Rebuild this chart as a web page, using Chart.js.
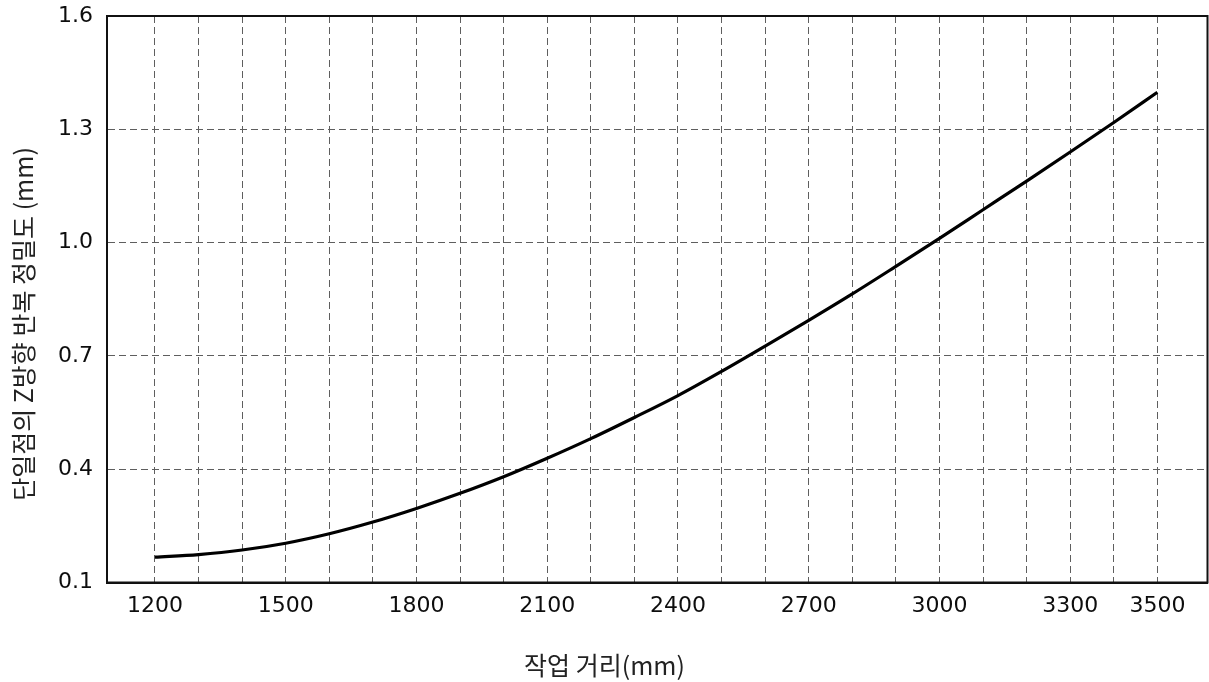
<!DOCTYPE html>
<html>
<head>
<meta charset="utf-8">
<script src="https://cdn.jsdelivr.net/npm/chart.js@4.4.0/dist/chart.umd.min.js"></script>
<style>
    html, body { margin:0; padding:0; background:#fff; }
    #wrap { width:1209px; height:682px; position:relative; }
</style>
</head>
<body>
<div id="wrap"><canvas id="chart"></canvas></div>
<script>
// ── Data ──
const distances = [1200,1300,1400,1500,1600,1700,1800,1900,2000,2100,2200,2300,
                   2400,2500,2600,2700,2800,2900,3000,3100,3200,3300,3400,3500];
const precision = [0.167,0.174,0.186,0.204,0.229,0.260,0.296,0.336,0.380,0.429,0.481,0.537,
                   0.595,0.659,0.726,0.794,0.864,0.937,1.011,1.087,1.163,1.240,1.318,1.398];
const xTickLabels = [1200,1500,1800,2100,2400,2700,3000,3300,3500];
const yTicks = [0.1,0.4,0.7,1.0,1.3,1.6];
const xTitle = '작업 거리(mm)';
const yTitle = '단일점의 Z방향 반복 정밀도 (mm)';

const TICK_FONT = { family:'"DejaVu Sans", sans-serif', size:22, weight:'normal' };
const TITLE_FONT = '25px "Noto Sans CJK KR", "Noto Sans", sans-serif';
const GRID_COLOR = '#5e5e5e';

// ── Frame + axis titles ──
const framePlugin = {
    id:'frame',
    afterDraw(chart) {
        const { ctx, chartArea:a } = chart;
        ctx.save();
        ctx.setLineDash([]);
        ctx.strokeStyle = '#111'; ctx.lineWidth = 2;
        ctx.strokeRect(a.left, a.top, a.right-a.left, a.bottom-a.top);
        ctx.fillStyle = '#222'; ctx.font = TITLE_FONT;
        ctx.textAlign = 'center'; ctx.textBaseline = 'middle';
        ctx.fillText(xTitle, chart.width/2, 665);
        ctx.translate(23, 324); ctx.rotate(-Math.PI/2);
        ctx.fillText(yTitle, 0, 0);
        ctx.restore();
    }
};

new Chart(document.getElementById('chart').getContext('2d'), {
    type:'line',
    plugins:[framePlugin],
    data:{ datasets:[{
        data: distances.map((d,i)=>({x:d, y:precision[i]})),
        borderColor:'#000', borderWidth:3.2, pointRadius:0,
        cubicInterpolationMode:'monotone', fill:false
    }]},
    options:{
        responsive:true, maintainAspectRatio:false, animation:false,
        layout:{ padding:{ top:16, right:1.5, left:0, bottom:0 } },
        plugins:{ legend:{display:false}, tooltip:{enabled:false} },
        scales:{
            x:{
                type:'linear', min:1090, max:3615,
                afterBuildTicks:(s)=>{ s.ticks = distances.map(v=>({value:v})); },
                afterFit:(s)=>{ s.height = 99.5; s.paddingLeft = 0; s.paddingRight = 0; },
                grid:{ display:true, color:GRID_COLOR, lineWidth:1, drawTicks:false },
                border:{ display:true, color:'#111', width:2, dash:[7,4] },
                ticks:{ autoSkip:false, maxRotation:0, padding:11, color:'#0d0d0d', font:TICK_FONT,
                        callback:(v)=> xTickLabels.includes(v) ? String(v) : '' }
            },
            y:{
                type:'linear', min:0.1, max:1.6,
                afterBuildTicks:(s)=>{ s.ticks = yTicks.map(v=>({value:v})); },
                afterFit:(s)=>{ s.width = 107; s.paddingTop = 0; s.paddingBottom = 0; },
                grid:{ display:true, lineWidth:1, drawTicks:false,
                       color:(c)=> (c.tick && (c.tick.value<=0.1 || c.tick.value>=1.6)) ? 'rgba(0,0,0,0)' : GRID_COLOR },
                border:{ display:true, color:'#111', width:2, dash:[7,4] },
                ticks:{ padding:14, color:'#0d0d0d', font:TICK_FONT,
                        callback:(v)=> Number(v).toFixed(1) }
            }
        }
    }
});
</script>
</body>
</html>
